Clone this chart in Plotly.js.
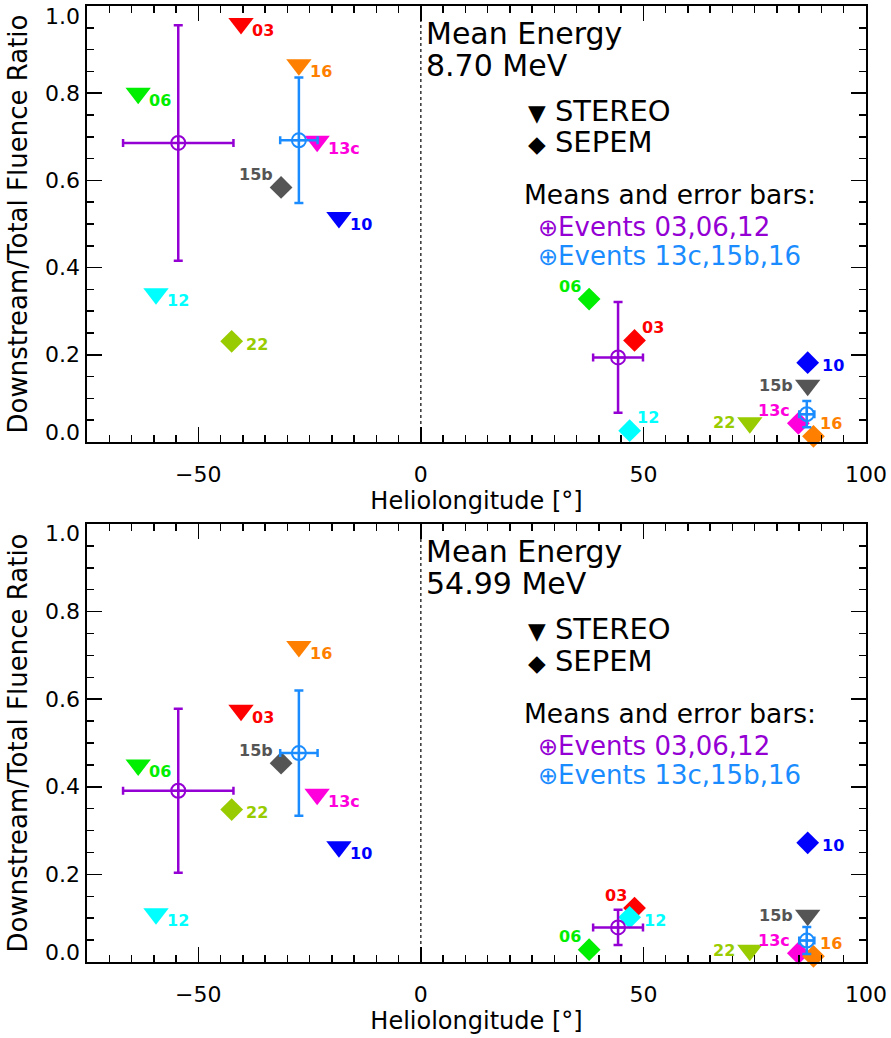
<!DOCTYPE html>
<html>
<head>
<meta charset="utf-8">
<script src="https://cdn.plot.ly/plotly-3.0.1.min.js"></script>
<style>
  html, body { margin: 0; padding: 0; background: #ffffff; }
  #chart { width: 891px; height: 1038px; }
</style>
</head>
<body>
<div id="chart"></div>
<script>
// ---- Event colours ----
const eventColors = {
  '03': '#ff0000', '06': '#00ee00', '10': '#0000ff', '12': '#00ffff',
  '13c': '#ff00dd', '15b': '#555555', '16': '#ff8000', '22': '#99cc00'
};

// ---- STEREO points (triangles) ----
const stereoEvents = ['03', '06', '10', '12', '13c', '16', '15b', '22'];
const stereoLon = [-40.4, -63.5, -18.4, -59.5, -23.3, -27.4, 86.9, 73.9];
const stereoRatioLow = [0.96, 0.80, 0.515, 0.34, 0.69, 0.865, 0.13, 0.044];
const stereoRatioHigh = [0.575, 0.45, 0.263, 0.11, 0.383, 0.72, 0.107, 0.027];

// ---- SEPEM points (diamonds) ----
const sepemEvents = ['15b', '22', '06', '03', '12', '10', '13c', '16'];
const sepemLon = [-31.4, -42.5, 37.8, 48.0, 46.9, 86.9, 84.8, 88.2];
const sepemRatioLow = [0.584, 0.231, 0.328, 0.233, 0.026, 0.182, 0.043, 0.013];
const sepemRatioHigh = [0.454, 0.348, 0.028, 0.123, 0.102, 0.272, 0.020, 0.013];

// ---- Group means with error bars ----
const meanGroups = ['Events 03,06,12', 'Events 13c,15b,16'];
const meanColors = ['#9400d3', '#1a8cff'];
const meanLon = [[-54.5, 44.3], [-27.4, 86.7]];
const meanLonErr = [[12.4, 5.6], [4.2, 1.7]];
const meanRatioLow = [[0.686, 0.194], [0.692, 0.064]];
const meanRatioLowErr = [[0.27, 0.127], [0.144, 0.03]];
const meanRatioHigh = [[0.391, 0.079], [0.477, 0.049]];
const meanRatioHighErr = [[0.187, 0.04], [0.143, 0.031]];

// ---- Panel energies ----
const energies = ['8.70 MeV', '54.99 MeV'];

// ---- Ratio axis tick labels ----
const yTickVals = [0, 0.2, 0.4, 0.6, 0.8, 1.0];
const yTickText = ['0.0', '0.2', '0.4', '0.6', '0.8', '1.0'];

// ---- Label placement around each marker ----
const stereoLabelPos = ['tr', 'tr', 'tr', 'tr', 'tr', 'tr', 'l', 'l'];
const sepemLabelPosLow = ['ul', 'r', 'ul', 'ur', 'ur', 'r', 'ul', 'ur'];
const sepemLabelPosHigh = ['ul', 'r', 'ul', 'ul', 'r', 'r', 'ul', 'ur'];
const placement = {
  tr: { xanchor: 'left', xshift: 9, yshift: -7 },
  r:  { xanchor: 'left', xshift: 12, yshift: -3 },
  l:  { xanchor: 'right', xshift: -13, yshift: 0 },
  ul: { xanchor: 'right', xshift: -6, yshift: 13 },
  ur: { xanchor: 'left', xshift: 5, yshift: 13 }
};

const FONT = 'DejaVu Sans, Verdana, sans-serif';
const X_RANGE = [-75, 100];
const Y_RANGE = [0, 1];
const traces = [];
const annotations = [];
const shapes = [];

function buildPanel(idx, axes, stereoRatio, sepemRatio, meanRatio, meanRatioErr, sepemLabelPos) {
  const xa = axes.x, ya = axes.y;

  traces.push({
    type: 'scatter', mode: 'markers', xaxis: xa, yaxis: ya,
    x: stereoLon, y: stereoRatio, cliponaxis: false, showlegend: false,
    marker: { symbol: 'triangle-down', size: 22, color: stereoEvents.map(e => eventColors[e]), line: { width: 0 } }
  });
  traces.push({
    type: 'scatter', mode: 'markers', xaxis: xa, yaxis: ya,
    x: sepemLon, y: sepemRatio, cliponaxis: false, showlegend: false,
    marker: { symbol: 'diamond', size: 17.5, color: sepemEvents.map(e => eventColors[e]), line: { width: 0 } }
  });
  meanGroups.forEach((g, k) => {
    traces.push({
      type: 'scatter', mode: 'markers', xaxis: xa, yaxis: ya, name: g,
      x: meanLon[k], y: meanRatio[k], cliponaxis: false, showlegend: false,
      marker: { symbol: 'circle-cross-open', size: 14, color: meanColors[k], line: { width: 2, color: meanColors[k] } },
      error_x: { type: 'data', array: meanLonErr[k], color: meanColors[k], thickness: 2.5, width: 4 },
      error_y: { type: 'data', array: meanRatioErr[k], color: meanColors[k], thickness: 2.5, width: 4.5 }
    });
  });
  // empty traces that register the tick-only top and right axes
  traces.push({ type: 'scatter', x: [], y: [], xaxis: axes.xTop, yaxis: ya, showlegend: false });
  traces.push({ type: 'scatter', x: [], y: [], xaxis: xa, yaxis: axes.yRight, showlegend: false });

  // event labels
  const addLabels = (names, xs, ys, pos) => names.forEach((e, i) => {
    const p = placement[pos[i]];
    annotations.push({
      xref: xa, yref: ya, x: xs[i], y: ys[i], text: e, showarrow: false,
      xanchor: p.xanchor, yanchor: 'middle', xshift: p.xshift, yshift: p.yshift,
      font: { family: FONT, size: 16, weight: 700, color: eventColors[e] }
    });
  });
  addLabels(stereoEvents, stereoLon, stereoRatio, stereoLabelPos);
  addLabels(sepemEvents, sepemLon, sepemRatio, sepemLabelPos);

  // ratio tick labels; the end labels sit just inside the frame
  const xd = xa + ' domain', yd = ya + ' domain';
  yTickVals.forEach((v, i) => {
    const last = yTickVals.length - 1;
    annotations.push({
      xref: xd, yref: ya, x: 0, y: v, text: yTickText[i], showarrow: false,
      xanchor: 'right', yanchor: 'middle', xshift: -5,
      yshift: i === 0 ? 10 : (i === last ? -10 : 0),
      font: { family: FONT, size: 22, color: '#000' }
    });
  });

  // panel text block
  const txt = (x, y, text, size, color) => annotations.push({
    xref: xd, yref: yd, x: x, y: y, text: text, showarrow: false,
    xanchor: 'left', yanchor: 'middle', align: 'left',
    font: { family: FONT, size: size, color: color }
  });
  txt(0.432, 0.936, 'Mean Energy', 30, '#000');
  txt(0.432, 0.864, energies[idx], 30, '#000');
  txt(0.564, 0.760, '<span style="font-size:23px">\u25BC</span> STEREO', 29, '#000');
  txt(0.564, 0.688, '<span style="font-size:23px">\u25C6</span> SEPEM', 29, '#000');
  txt(0.558, 0.567, 'Means and error bars:', 26.5, '#000');
  meanGroups.forEach((g, k) => {
    txt(0.576, 0.493 - 0.066 * k, '<span style="font-size:24px">\u2295</span>' + g, 26, meanColors[k]);
  });

  // dotted line at zero longitude
  shapes.push({
    type: 'line', xref: xa, yref: yd, x0: 0, x1: 0, y0: 0, y1: 1,
    line: { color: '#000', width: 1.2, dash: 'dot' }, layer: 'below'
  });
}

const panelAxes = [
  { x: 'x', y: 'y', xTop: 'x3', yRight: 'y3' },
  { x: 'x2', y: 'y2', xTop: 'x4', yRight: 'y4' }
];
buildPanel(0, panelAxes[0], stereoRatioLow, sepemRatioLow, meanRatioLow, meanRatioLowErr, sepemLabelPosLow);
buildPanel(1, panelAxes[1], stereoRatioHigh, sepemRatioHigh, meanRatioHigh, meanRatioHighErr, sepemLabelPosHigh);

const tickStyle = {
  ticks: 'inside', ticklen: 15, tickwidth: 1.5, tickcolor: '#000',
  showline: true, linecolor: '#000', linewidth: 2,
  showgrid: false, zeroline: false
};
const xMinor = { dtick: 5, ticks: 'inside', ticklen: 7, tickwidth: 1.5, tickcolor: '#000' };
const yMinor = { dtick: 0.05, ticks: 'inside', ticklen: 7, tickwidth: 1.5, tickcolor: '#000' };

const xAxisMain = (anchor) => Object.assign({}, tickStyle, {
  anchor: anchor, range: X_RANGE, tick0: 0, dtick: 50, minor: xMinor,
  mirror: true, ticklabelstandoff: 12,
  tickfont: { family: FONT, size: 22, color: '#000' },
  title: { text: 'Heliolongitude [°]', font: { family: FONT, size: 24, color: '#000' }, standoff: 5 }
});
const xAxisTop = (anchor, over) => Object.assign({}, tickStyle, {
  anchor: anchor, overlaying: over, side: 'top', range: X_RANGE, tick0: 0, dtick: 50,
  minor: xMinor, showticklabels: false
});
const yAxisMain = (anchor, domain) => Object.assign({}, tickStyle, {
  anchor: anchor, domain: domain, range: Y_RANGE, tick0: 0, dtick: 0.2,
  minor: yMinor, mirror: true, showticklabels: false,
  title: { text: 'Downstream/Total Fluence Ratio', font: { family: FONT, size: 26, color: '#000' }, standoff: 50 }
});
const yAxisRight = (anchor, over) => Object.assign({}, tickStyle, {
  anchor: anchor, overlaying: over, side: 'right', range: Y_RANGE, tick0: 0, dtick: 0.2,
  minor: yMinor, showticklabels: false
});

const layout = {
  width: 891, height: 1038,
  margin: { l: 87, r: 25, t: 6, b: 76 },
  paper_bgcolor: '#fff', plot_bgcolor: '#fff',
  showlegend: false,
  xaxis: xAxisMain('y'),
  yaxis: yAxisMain('x', [0.5439, 1]),
  xaxis2: xAxisMain('y2'),
  yaxis2: yAxisMain('x2', [0, 0.4582]),
  xaxis3: xAxisTop('y', 'x'),
  yaxis3: yAxisRight('x', 'y'),
  xaxis4: xAxisTop('y2', 'x2'),
  yaxis4: yAxisRight('x2', 'y2'),
  annotations: annotations,
  shapes: shapes
};

Plotly.newPlot('chart', traces, layout, { displayModeBar: false, staticPlot: true });
</script>
</body>
</html>
